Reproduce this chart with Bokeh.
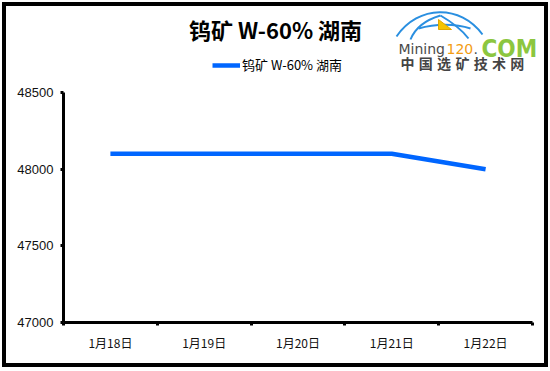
from bokeh.plotting import figure
from bokeh.layouts import column
from bokeh.models import (Range1d, FixedTicker, Legend, LegendItem,
                          LinearAxis, ColumnDataSource)
from bokeh.core.properties import value
from bokeh.embed import file_html
from bokeh.resources import INLINE

dates = ["1月18日", "1月19日", "1月20日", "1月21日", "1月22日"]
prices = [48100, 48100, 48100, 48100, 48000]
y_ticks = [47000, 47500, 48000, 48500]
series_name = "钨矿 W-60% 湖南"
title_text = "钨矿 W-60% 湖南"
logo_cn = "中国选矿技术网"

LINE_COLOR = "#0066FF"
W = 546
# ---------------- header (title, legend, logo) ----------------
HH = 78          # header host: image y 2..80, canvas origin image (6,6)
hdr = figure(width=W, height=HH, output_backend="svg", toolbar_location=None,
             x_range=Range1d(6, 6 + W), y_range=Range1d(6 + HH, 6),
             x_axis_type=None, y_axis_type=None, min_border=0, title=None)
hdr.frame_align = False
hdr.styles = {"border": "4px solid black", "border-bottom": "none"}
hdr.outline_line_color = None
hdr.grid.visible = False
hdr.border_fill_color = "white"

hdr.text(x=[275], y=[28], text=[title_text], text_align="center",
         text_baseline="middle", text_font=value("Noto Sans CJK SC"),
         text_font_style="bold", text_font_size="22px", text_color="black")

# legend: the sample renderer sits outside the visible range, it only carries the style
dummy = hdr.line(x=[0, 1], y=[-1000, -1000], line_color=LINE_COLOR, line_width=4.5)
leg = Legend(items=[LegendItem(label=series_name, renderers=[dummy])],
             location=(212 - 6, 84 - 74), border_line_color=None,
             background_fill_alpha=0, label_text_font="Noto Sans CJK SC",
             label_text_font_size="13px", label_text_color="black",
             glyph_width=28, glyph_height=14, label_standoff=2,
             padding=0, margin=0, label_height=14)
hdr.add_layout(leg, "center")

# logo: globe arcs, flag, wordmark
hdr.bezier(x0=[396, 410, 440, 418], y0=[36, 39, 15, 28], x1=[482, 440, 468, 470],
           y1=[34, 15, 38, 28], cx0=[418, 416, 452, 435], cy0=[4, 24, 22, 23],
           cx1=[460, 430, 462, 455], cy1=[4, 18, 30, 23], line_color="#2A8FE0",
           line_width=2)
hdr.patch(x=[438, 451, 438], y=[19, 29, 29], fill_color="#F5C400",
          line_color="#E0A800", line_width=1)
hdr.text(x=[398], y=[48], text=["Mining"], text_font=value("DejaVu Sans"),
         text_font_size="14px", text_color="#4a4a4a", text_baseline="alphabetic")
hdr.text(x=[446], y=[48], text=["120"], text_font=value("DejaVu Sans"),
         text_font_size="14px", text_color="#F39C12", text_baseline="alphabetic")
hdr.text(x=[473], y=[48], text=["."], text_font=value("DejaVu Sans"),
         text_font_size="14px", text_color="#4a4a4a", text_baseline="alphabetic")
hdr.text(x=[481], y=[48], text=["COM"],
         text_font=value("DejaVu Sans Condensed"), text_font_style="bold",
         text_font_size="24px", text_color="#8CC63F", text_baseline="alphabetic")
hdr.text(x=[400 + 18.3 * i for i in range(len(logo_cn))], y=[62] * len(logo_cn),
         text=list(logo_cn), text_font=value("Noto Sans CJK SC"),
         text_font_style="bold", text_font_size="14px", text_color="#444444",
         text_baseline="middle")

# ---------------- main chart ----------------
HM = 287         # host image y 80..367, canvas origin image (6,80)
OX, OY = 6, 80
FL, FR, FT, FB = 63, 532, 92, 322  # frame edges in image px
p = figure(width=W, height=HM, output_backend="svg", toolbar_location=None,
           x_range=Range1d(0, len(dates)), y_range=Range1d(47000, 48500),
           min_border_left=FL - OX, min_border_right=W - (FR - OX),
           min_border_top=FT - OY, min_border_bottom=HM - (FB - OY),
           x_axis_type=None, y_axis_type=None, title=None)
p.frame_align = False
p.styles = {"border": "4px solid black", "border-top": "none"}
p.outline_line_color = None
p.grid.visible = False
p.background_fill_color = "white"
p.border_fill_color = "white"

xs = [i + 0.5 for i in range(len(dates))]
src = ColumnDataSource(dict(x=xs, y=prices))
p.line("x", "y", source=src, line_color=LINE_COLOR, line_width=4.5)

yax = LinearAxis(ticker=FixedTicker(ticks=y_ticks))
yax.axis_line_width = 3
yax.axis_line_color = "black"
yax.major_tick_line_width = 3
yax.major_tick_out = 3
yax.major_tick_in = 0
yax.minor_tick_line_color = None
yax.major_label_text_font = "Liberation Sans"
yax.major_label_text_font_size = "13px"
yax.major_label_text_color = "#111111"
yax.major_label_standoff = 7
p.add_layout(yax, "left")

xax = LinearAxis(ticker=FixedTicker(ticks=list(range(len(dates) + 1))))
xax.axis_line_width = 3
xax.axis_line_color = "black"
xax.major_tick_line_width = 3
xax.major_tick_out = 3
xax.major_tick_in = 0
xax.minor_tick_line_color = None
xax.major_label_text_font_size = "0px"
xax.major_label_overrides = {i: "" for i in range(len(dates) + 1)}
p.add_layout(xax, "below")

xlab = LinearAxis(ticker=FixedTicker(ticks=xs))
xlab.axis_line_color = None
xlab.major_tick_line_color = None
xlab.minor_tick_line_color = None
xlab.major_label_overrides = {x: d for x, d in zip(xs, dates)}
xlab.major_label_text_font = "Noto Sans CJK SC"
xlab.major_label_text_font_size = "12px"
xlab.major_label_text_color = "#111111"
xlab.major_label_standoff = 2
p.add_layout(xlab, "below")

layout = column(hdr, p, spacing=0)
layout.styles = {"margin-left": "2px", "margin-top": "2px"}

open("out.html", "w").write(file_html(layout, INLINE))
